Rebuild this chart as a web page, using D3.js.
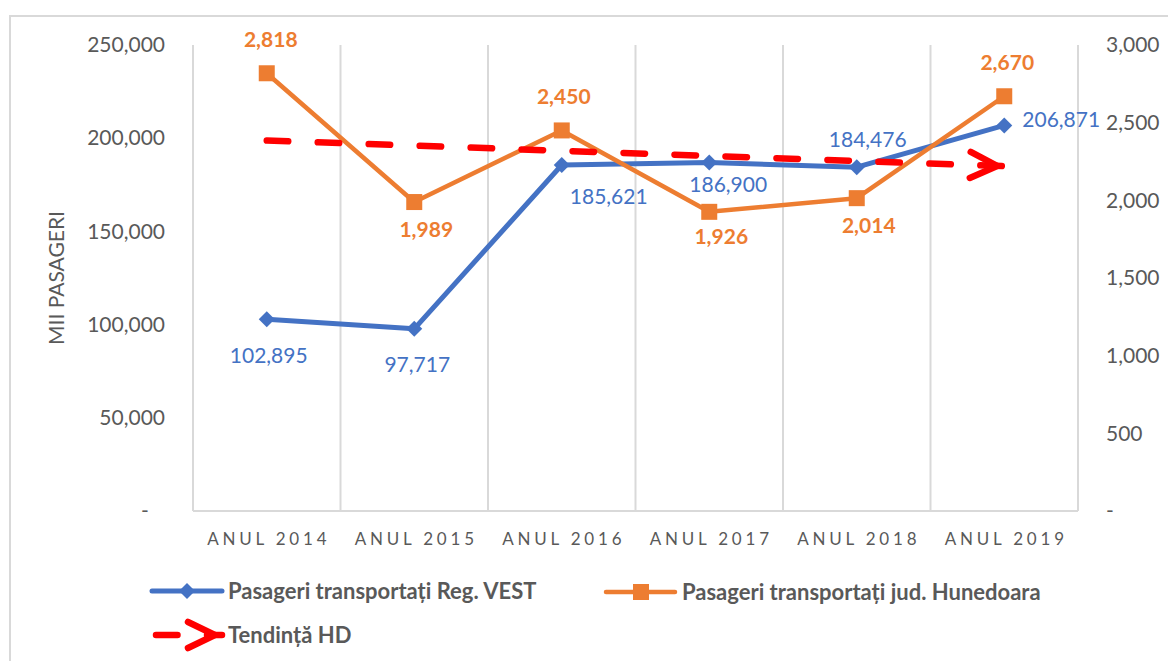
<html>
<head>
  <meta charset="utf-8">
  <title>Pasageri transportati</title>
  <script src="https://d3js.org/d3.v7.min.js"></script>
  <style>
    body { margin: 0; background: #fff; }
    svg text { font-family: Lato, "Open Sans", sans-serif; }
  </style>
</head>
<body>
<svg id="chart" width="1168" height="661"></svg>
<script>
  // data
  var categories = ["ANUL 2014", "ANUL 2015", "ANUL 2016", "ANUL 2017", "ANUL 2018", "ANUL 2019"];
  var vestValues = [102895, 97717, 185621, 186900, 184476, 206871];
  var hunedoaraValues = [2818, 1989, 2450, 1926, 2014, 2670];
  var trendValues = [2385, 2220];   // trend line at first and last year (right axis)
  var leftTicks = [0, 50000, 100000, 150000, 200000, 250000];
  var rightTicks = [0, 500, 1000, 1500, 2000, 2500, 3000];

  var seriesNames = ["Pasageri transportați Reg. VEST", "Pasageri transportați jud. Hunedoara", "Tendință HD"];

  // label placement (dx, dy from the point), like the hand-moved Excel labels
  var vestLabelPos = [[2, 36], [3, 36], [47, 31], [19, 22], [11, -28], [57, -6]];
  var hdLabelPos = [[4, -34], [12, 27], [2, -34], [12, 25], [12, 27], [3, -34]];

  var blue = "#4472C4", orange = "#ED7D31", red = "#FF0000", grey = "#595959", gridCol = "#D9D9D9";

  var svg = d3.select("#chart");
  var plotL = 193, plotR = 1078, plotT = 45, plotB = 511;

  var x = d3.scaleBand().domain(categories).range([plotL, plotR]);
  var yLeft = d3.scaleLinear().domain([0, 250000]).range([plotB, plotT]);
  var yRight = d3.scaleLinear().domain([0, 3000]).range([plotB, plotT]);
  var cx = function(c) { return x(c) + x.bandwidth() / 2; };

  var fmt = d3.format(",");

  // frame of the chart object
  svg.append("path")
    .attr("d", "M10,661 L10,16 L1168,16")
    .attr("fill", "none").attr("stroke", gridCol).attr("stroke-width", 2);

  // vertical gridlines between categories
  var bounds = categories.map(function(c) { return x(c); }).concat([plotR]);
  svg.selectAll(".grid").data(bounds).enter().append("line")
    .attr("class", "grid")
    .attr("x1", function(d) { return d; }).attr("x2", function(d) { return d; })
    .attr("y1", plotT).attr("y2", plotB)
    .attr("stroke", gridCol).attr("stroke-width", 2);

  svg.append("line")
    .attr("x1", plotL).attr("x2", plotR).attr("y1", plotB).attr("y2", plotB)
    .attr("stroke", gridCol).attr("stroke-width", 2);

  // axes
  var gl = svg.append("g").attr("transform", "translate(" + plotL + ",0)")
    .call(d3.axisLeft(yLeft).tickValues(leftTicks).tickSize(0).tickPadding(28)
      .tickFormat(function(d) { return d === 0 ? "-\u00A0\u00A0\u00A0" : fmt(d); }));
  var gr = svg.append("g").attr("transform", "translate(" + plotR + ",0)")
    .call(d3.axisRight(yRight).tickValues(rightTicks).tickSize(0).tickPadding(28)
      .tickFormat(function(d) { return d === 0 ? "-" : fmt(d); }));
  var gb = svg.append("g").attr("transform", "translate(0," + plotB + ")")
    .call(d3.axisBottom(x).tickSize(0));

  [gl, gr, gb].forEach(function(g) {
    g.select(".domain").remove();
    g.selectAll("text").attr("fill", grey).style("font-family", "Lato").style("font-size", "21px");
  });
  gb.selectAll("text").style("font-size", "17px").attr("letter-spacing", "3.8px")
    .attr("y", 34).attr("dy", 0).attr("dx", 2);

  svg.append("text")
    .attr("transform", "translate(64,278) rotate(-90)")
    .attr("text-anchor", "middle")
    .attr("fill", grey).style("font-size", "21px")
    .text("MII PASAGERI");

  // series lines
  var lineVest = d3.line().x(function(d, i) { return cx(categories[i]); }).y(function(d) { return yLeft(d); });
  var lineHd = d3.line().x(function(d, i) { return cx(categories[i]); }).y(function(d) { return yRight(d); });

  svg.append("path").datum(vestValues).attr("d", lineVest)
    .attr("fill", "none").attr("stroke", blue).attr("stroke-width", 5).attr("stroke-linejoin", "round");
  svg.selectAll(".dia").data(vestValues).enter().append("path")
    .attr("class", "dia")
    .attr("d", "M0,-8 L8,0 L0,8 L-8,0 Z")
    .attr("transform", function(d, i) { return "translate(" + cx(categories[i]) + "," + yLeft(d) + ")"; })
    .attr("fill", blue);

  svg.append("path").datum(hunedoaraValues).attr("d", lineHd)
    .attr("fill", "none").attr("stroke", orange).attr("stroke-width", 4.5).attr("stroke-linejoin", "round");
  svg.selectAll(".sq").data(hunedoaraValues).enter().append("rect")
    .attr("class", "sq")
    .attr("x", function(d, i) { return cx(categories[i]) - 8; })
    .attr("y", function(d) { return yRight(d) - 8; })
    .attr("width", 16).attr("height", 16)
    .attr("fill", orange);

  // trend line with open arrow end
  svg.append("defs").append("marker")
    .attr("id", "chev")
    .attr("markerUnits", "userSpaceOnUse")
    .attr("viewBox", "-40 -20 44 40")
    .attr("markerWidth", 44).attr("markerHeight", 40)
    .attr("refX", 0).attr("refY", 0)
    .attr("orient", "auto")
    .append("path")
    .attr("d", "M-34,-13 L-7,0 L-34,13")
    .attr("fill", "none").attr("stroke", red).attr("stroke-width", 6.5)
    .attr("stroke-linecap", "round").attr("stroke-linejoin", "miter")
    .attr("stroke-dasharray", "none");

  var trendX = [cx(categories[0]), cx(categories[categories.length - 1])];
  svg.append("line")
    .attr("x1", trendX[0]).attr("y1", yRight(trendValues[0]))
    .attr("x2", trendX[1]).attr("y2", yRight(trendValues[1]))
    .attr("stroke", red).attr("stroke-width", 6.5)
    .attr("stroke-linecap", "round").attr("stroke-dasharray", "21.5,29.5")
    .attr("marker-end", "url(#chev)");

  // data labels
  svg.selectAll(".lv").data(vestValues).enter().append("text")
    .attr("class", "lv")
    .attr("x", function(d, i) { return cx(categories[i]) + vestLabelPos[i][0]; })
    .attr("y", function(d, i) { return yLeft(d) + vestLabelPos[i][1]; })
    .attr("dy", "0.36em").attr("text-anchor", "middle")
    .attr("fill", blue).style("font-size", "21px")
    .text(function(d) { return fmt(d); });

  svg.selectAll(".lh").data(hunedoaraValues).enter().append("text")
    .attr("class", "lh")
    .attr("x", function(d, i) { return cx(categories[i]) + hdLabelPos[i][0]; })
    .attr("y", function(d, i) { return yRight(d) + hdLabelPos[i][1]; })
    .attr("dy", "0.36em").attr("text-anchor", "middle")
    .attr("fill", orange).style("font-size", "21px").style("font-weight", "bold")
    .text(function(d) { return fmt(d); });

  // legend
  var lg = svg.append("g");
  lg.append("line").attr("x1", 152).attr("x2", 222).attr("y1", 591).attr("y2", 591)
    .attr("stroke", blue).attr("stroke-width", 5).attr("stroke-linecap", "round");
  lg.append("path").attr("d", "M0,-8 L8,0 L0,8 L-8,0 Z").attr("transform", "translate(187,591)").attr("fill", blue);

  lg.append("line").attr("x1", 606).attr("x2", 675).attr("y1", 592).attr("y2", 592)
    .attr("stroke", orange).attr("stroke-width", 4.5).attr("stroke-linecap", "round");
  lg.append("rect").attr("x", 633).attr("y", 584).attr("width", 16).attr("height", 16).attr("fill", orange);

  lg.append("line").attr("x1", 156).attr("x2", 222).attr("y1", 635).attr("y2", 635)
    .attr("stroke", red).attr("stroke-width", 6.5)
    .attr("stroke-linecap", "round").attr("stroke-dasharray", "21.5,29.5")
    .attr("marker-end", "url(#chev)");

  var legendPos = [[228, 591], [682, 592], [228, 635]];
  lg.selectAll(".lt").data(seriesNames).enter().append("text")
    .attr("class", "lt")
    .attr("x", function(d, i) { return legendPos[i][0]; })
    .attr("y", function(d, i) { return legendPos[i][1]; })
    .attr("dy", "0.36em")
    .attr("fill", grey).style("font-size", "22px").style("font-weight", "bold")
    .text(function(d) { return d; });
</script>
</body>
</html>
